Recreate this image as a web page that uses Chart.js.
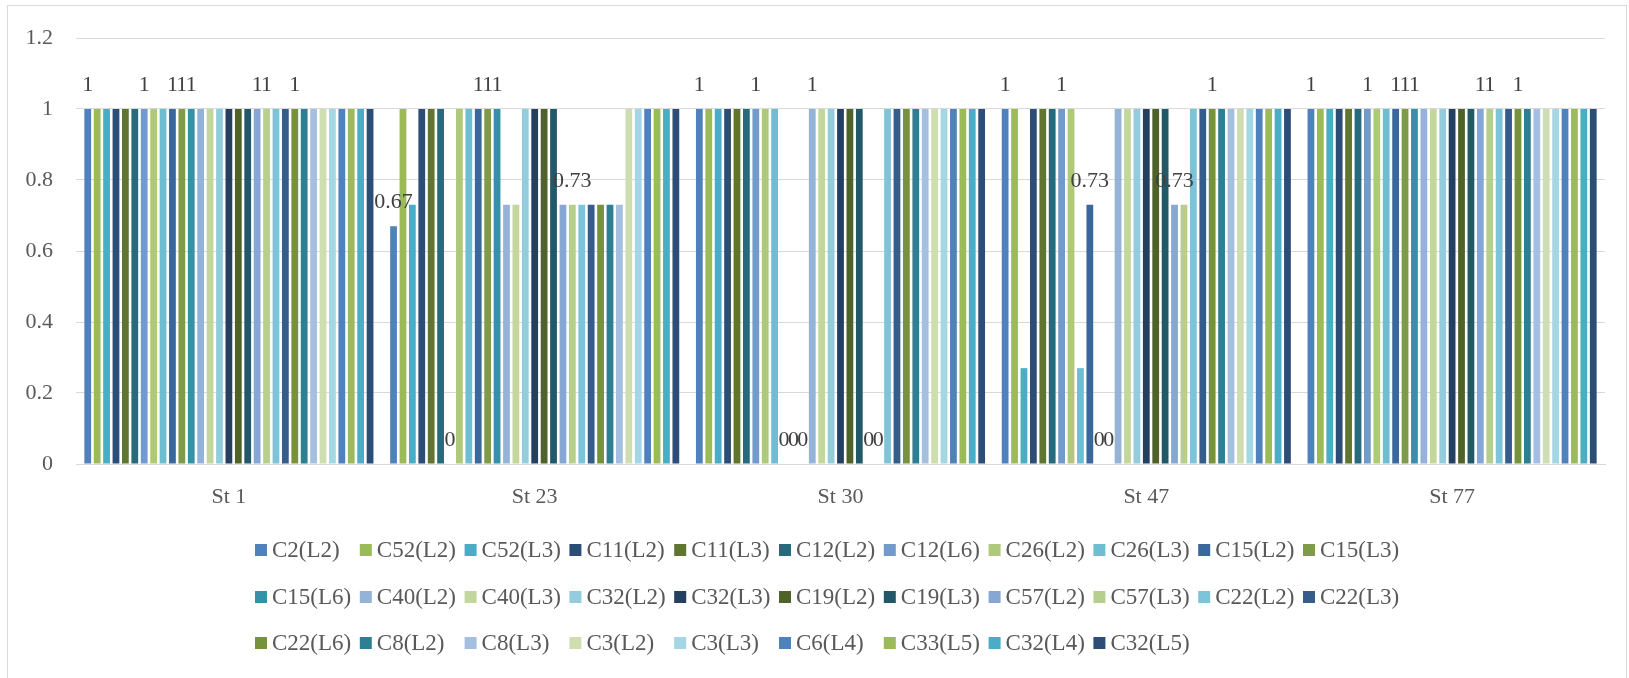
<!DOCTYPE html>
<html>
<head>
<meta charset="utf-8">
<script src="https://cdn.jsdelivr.net/npm/chart.js@4"></script>
<style>
  html, body { margin: 0; padding: 0; background: #fff; }
  #wrap { width: 1629px; height: 678px; }
</style>
</head>
<body>
<div id="wrap"><canvas id="grafico"></canvas></div>
<script>
const categories = ['St 1', 'St 23', 'St 30', 'St 47', 'St 77'];

const seriesNames = [
  'C2(L2)', 'C52(L2)', 'C52(L3)', 'C11(L2)', 'C11(L3)', 'C12(L2)', 'C12(L6)', 'C26(L2)',
  'C26(L3)', 'C15(L2)', 'C15(L3)', 'C15(L6)', 'C40(L2)', 'C40(L3)', 'C32(L2)', 'C32(L3)',
  'C19(L2)', 'C19(L3)', 'C57(L2)', 'C57(L3)', 'C22(L2)', 'C22(L3)', 'C22(L6)', 'C8(L2)',
  'C8(L3)', 'C3(L2)', 'C3(L3)', 'C6(L4)', 'C33(L5)', 'C32(L4)', 'C32(L5)'
];

// one value per series, in legend order
const st1  = [1, 1, 1, 1, 1, 1, 1, 1, 1, 1, 1, 1, 1, 1, 1, 1, 1, 1, 1, 1, 1, 1, 1, 1, 1, 1, 1, 1, 1, 1, 1];
const st23 = [0.67, 1, 0.73, 1, 1, 1, 0, 1, 1, 1, 1, 1, 0.73, 0.73, 1, 1, 1, 1, 0.73, 0.73, 0.73, 0.73, 0.73, 0.73, 0.73, 1, 1, 1, 1, 1, 1];
const st30 = [1, 1, 1, 1, 1, 1, 1, 1, 1, 0, 0, 0, 1, 1, 1, 1, 1, 1, 0, 0, 1, 1, 1, 1, 1, 1, 1, 1, 1, 1, 1];
const st47 = [1, 1, 0.27, 1, 1, 1, 1, 1, 0.27, 0.73, 0, 0, 1, 1, 1, 1, 1, 1, 0.73, 0.73, 1, 1, 1, 1, 1, 1, 1, 1, 1, 1, 1];
const st77 = [1, 1, 1, 1, 1, 1, 1, 1, 1, 1, 1, 1, 1, 1, 1, 1, 1, 1, 1, 1, 1, 1, 1, 1, 1, 1, 1, 1, 1, 1, 1];

// which series show a value label, per category
const lblSt1  = [0, 6, 9, 10, 11, 18, 19, 22];
const lblSt23 = [0, 6, 9, 10, 11, 19];
const lblSt30 = [0, 6, 9, 10, 11, 12, 18, 19];
const lblSt47 = [0, 6, 9, 10, 11, 18, 22];
const lblSt77 = [0, 6, 9, 10, 11, 18, 19, 22];

const yTicks = [0, 0.2, 0.4, 0.6, 0.8, 1, 1.2];

const colors = [
  '#4f81bd', '#9bbb59', '#4bacc6', '#2c4d75', '#5f7530', '#276a7c', '#729aca', '#afc97a',
  '#6fbdd1', '#3a679c', '#7f9a48', '#3590a8', '#95b3d7', '#c3d69b', '#93cddd', '#243f60',
  '#4f6228', '#215968', '#86a6d4', '#b6cf8c', '#7ec4d8', '#345d8c', '#76923c', '#2e7f93',
  '#a5bfe0', '#cfdeb0', '#a5d6e3', '#4f81bd', '#9bbb59', '#4bacc6', '#2c4d75'
];

const FONT = '"Liberation Serif", serif';

document.addEventListener('DOMContentLoaded', function() {
  const ctx = document.getElementById('grafico').getContext('2d');
  const byCat = [st1, st23, st30, st47, st77];
  const labelled = [lblSt1, lblSt23, lblSt30, lblSt47, lblSt77];

  const datasets = seriesNames.map((name, i) => ({
    label: name,
    data: byCat.map(arr => arr[i]),
    backgroundColor: colors[i],
    borderWidth: 0,
    barPercentage: 0.72,
    categoryPercentage: 0.954
  }));

  // frame round the whole chart
  const frame = {
    id: 'frame',
    beforeDraw(chart) {
      const c = chart.ctx;
      c.save();
      c.fillStyle = '#fff';
      c.fillRect(0, 0, chart.width, chart.height);
      c.strokeStyle = '#d9d9d9';
      c.lineWidth = 1;
      c.strokeRect(7.5, 5.5, chart.width - 10, chart.height + 10);
      c.restore();
    }
  };

  const valueLabels = {
    id: 'valueLabels',
    afterDatasetsDraw(chart) {
      const c = chart.ctx;
      c.save();
      c.font = '22px ' + FONT;
      c.fillStyle = '#404040';
      c.textAlign = 'center';
      c.textBaseline = 'middle';
      labelled.forEach((list, ci) => {
        list.forEach(si => {
          const bar = chart.getDatasetMeta(si).data[ci];
          const v = chart.data.datasets[si].data[ci];
          c.fillText(String(v), bar.x, bar.y - 24);
        });
      });
      c.restore();
    }
  };

  // Excel-like legend: fixed grid of 11 columns
  const gridLegend = {
    id: 'gridLegend',
    afterDraw(chart) {
      const c = chart.ctx;
      const x0 = 255, pitch = 104.8, rows = [550, 597, 643], cols = 11;
      c.save();
      c.font = '23px ' + FONT;
      c.textBaseline = 'middle';
      c.textAlign = 'left';
      chart.data.datasets.forEach((ds, i) => {
        const x = x0 + (i % cols) * pitch;
        const y = rows[Math.floor(i / cols)];
        c.fillStyle = ds.backgroundColor;
        c.fillRect(x, y - 6, 12, 12);
        c.fillStyle = '#595959';
        c.fillText(ds.label, x + 17, y + 1);
      });
      c.restore();
    }
  };

  const config = {
    type: 'bar',
    data: { labels: categories, datasets },
    options: {
      responsive: true,
      maintainAspectRatio: false,
      animation: false,
      layout: { padding: { left: 0, top: 38, right: 24, bottom: 150 } },
      plugins: {
        legend: { display: false },
        tooltip: { enabled: false }
      },
      scales: {
        x: {
          grid: { display: false, drawTicks: false },
          border: { display: true, color: '#d9d9d9', width: 1 },
          ticks: { color: '#595959', font: { family: FONT, size: 22 }, padding: 20 },
          afterFit: s => { s.height = 64; }
        },
        y: {
          min: 0,
          max: 1.2,
          afterBuildTicks: s => { s.ticks = yTicks.map(v => ({ value: v })); },
          grid: { color: '#d9d9d9', drawTicks: false },
          border: { display: false },
          ticks: {
            color: '#595959',
            font: { family: FONT, size: 22 },
            padding: 23,
            callback: v => String(Number(v.toFixed(2)))
          },
          afterFit: s => { s.width = 76; }
        }
      }
    },
    plugins: [frame, valueLabels, gridLegend]
  };

  const graph = new Chart(ctx, config);
});
</script>
</body>
</html>
